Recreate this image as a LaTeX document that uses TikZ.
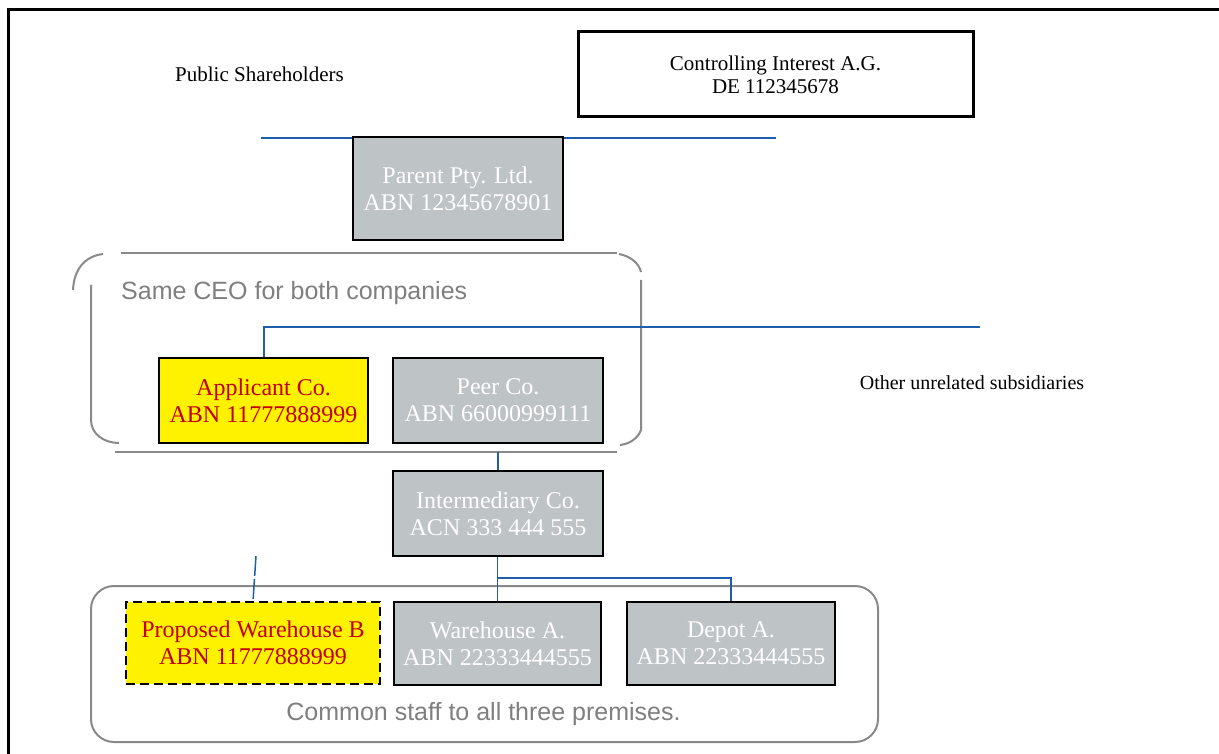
\documentclass[tikz,border=0pt]{standalone}
\usepackage{fontspec}
\setmainfont{Liberation Serif}
\newfontfamily\arialf{Liberation Sans}
\definecolor{boxgray}{RGB}{190,195,197}
\definecolor{linegray}{RGB}{137,137,137}
\definecolor{textgray}{RGB}{127,127,127}
\definecolor{linkblue}{RGB}{31,94,170}
\definecolor{darkred}{RGB}{192,0,0}
\tikzset{
  graybox/.style={draw=black, line width=2, fill=boxgray, inner sep=0, align=center,
    text=white, font=\fontsize{24}{27}\selectfont},
  yellowbox/.style={draw=black, line width=2, fill=yellow, inner sep=0, align=center,
    text=darkred, font=\fontsize{24}{27}\selectfont},
  plainlabel/.style={inner sep=0, font=\fontsize{21}{23}\selectfont},
  grouptext/.style={inner sep=0, text=textgray, font=\arialf\fontsize{25}{28}\selectfont},
  link/.style={draw=linkblue, line width=2},
  thinlink/.style={draw=linkblue, line width=1.5},
  grouplines/.style={draw=linegray, line width=2},
}
\begin{document}
\begin{tikzpicture}[x=1pt, y=-1pt]
\useasboundingbox (0,0) rectangle (1219,754);
\fill[white] (0,0) rectangle (1219,754);
% outer frame (cut off at right and bottom)
\draw[line width=3] (8.5,760) -- (8.5,10) -- (1225,10);

% top level
\node[plainlabel, anchor=base] (public) at (259.5,82) {Public Shareholders};
\node[draw=black, line width=3, minimum width=395, minimum height=85, inner sep=0,
      align=center, font=\fontsize{21}{23}\selectfont] (ctrl) at (775.5,74.5)
      {Controlling Interest A.G.\\DE 112345678};
\coordinate (topL) at (261,138);
\coordinate (topR) at (776,138);
\draw[link] (topL) -- (topR);
\node[graybox, minimum width=210, minimum height=103] (parent) at (458,188.5)
      {Parent Pty. Ltd.\\ABN 12345678901};

% CEO group bracket
\draw[grouplines] (121,253) -- (617,253);
\draw[grouplines] (115,452) -- (617,452);
\draw[grouplines] (73,290) .. controls (74,268) and (86,256) .. (103,254);
\draw[grouplines] (91,285) -- (91,420) .. controls (91,434) and (104,443) .. (119,443);
\draw[grouplines] (619,254) .. controls (630,256) and (639,263) .. (641,272);
\draw[grouplines] (641,280) -- (641,430) .. controls (638,438) and (630,444) .. (620,445);
\node[grouptext, anchor=base west] (ceo) at (121,299) {Same CEO for both companies};

\node[yellowbox, minimum width=209, minimum height=85] (applicant) at (263.5,400.5)
      {Applicant Co.\\ABN 11777888999};
\node[graybox, minimum width=210, minimum height=85] (peer) at (498,400.5)
      {Peer Co.\\ABN 66000999111};
\coordinate (otherEnd) at (980,327);
\draw[link] (applicant.north) -- (applicant.north |- otherEnd) -- (otherEnd);
\node[plainlabel, font=\fontsize{20}{22}\selectfont, anchor=base] (other) at (972,389)
      {Other unrelated subsidiaries};

% intermediary
\node[graybox, minimum width=210, minimum height=85] (inter) at (498,513.5)
      {Intermediary Co.\\ACN 333 444 555};
\coordinate (ceoBottom) at (498,452);
\draw[thinlink] (ceoBottom) -- (inter.north);

% premises group
\draw[grouplines, rounded corners=23] (91,586) rectangle (878,742);
\node[grouptext, anchor=base] (common) at (483.5,720) {Common staff to all three premises.};

\node[yellowbox, dashed, dash pattern=on 9pt off 5pt, minimum width=254, minimum height=82] (proposed) at (253,643)
      {Proposed Warehouse B\\ABN 11777888999};
\node[graybox, minimum width=207, minimum height=83] (wareA) at (497.5,643.5)
      {Warehouse A.\\ABN 22333444555};
\node[graybox, minimum width=208, minimum height=83] (depot) at (731,643.5)
      {Depot A.\\ABN 22333444555};

\draw[thinlink] (inter.south -| wareA.north) -- (wareA.north);
\coordinate (branch) at (497,578);
\draw[link] (branch) -- (branch -| depot.north) -- (depot.north);
\coordinate (propTop) at (256,556);
\draw[thinlink, dash pattern=on 20pt off 3pt] (propTop) -- (proposed.north);
\end{tikzpicture}
\end{document}
